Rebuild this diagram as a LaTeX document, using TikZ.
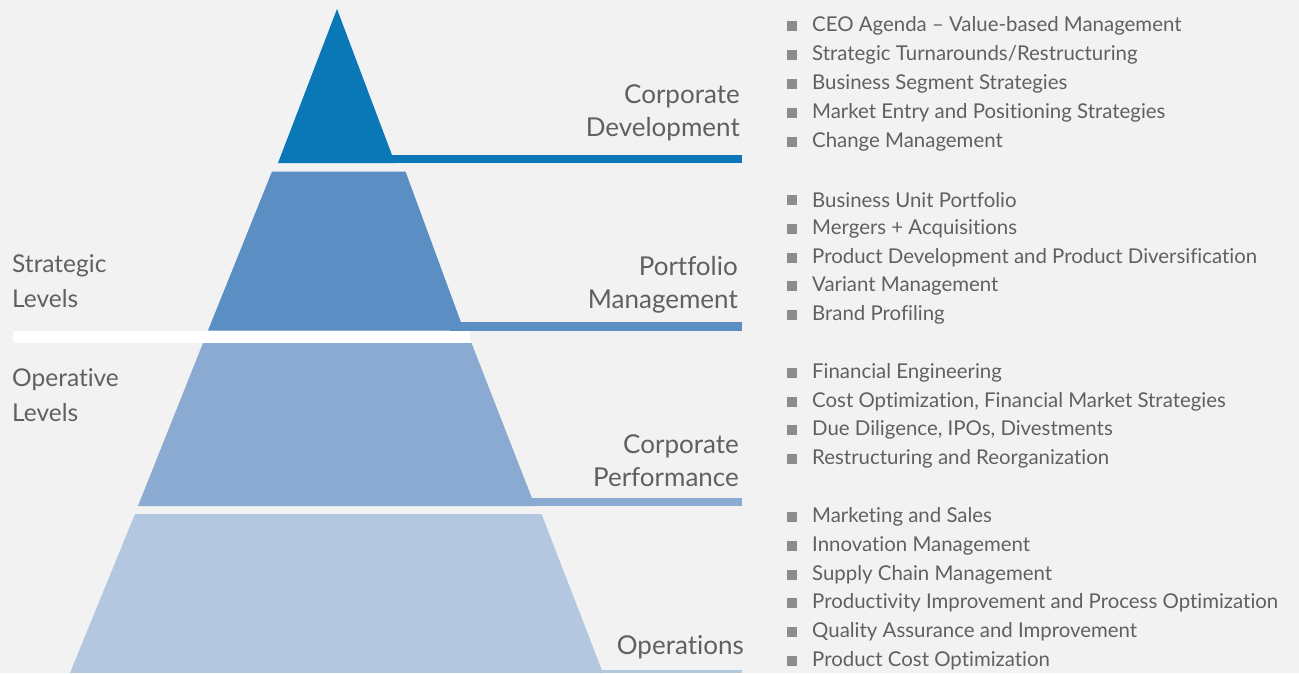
\documentclass[tikz,border=0pt]{standalone}
\usepackage{fontspec}
\setmainfont{Lato}[Ligatures=NoCommon]
\usetikzlibrary{positioning}
\definecolor{bgray}{HTML}{F2F2F2}
\definecolor{lvlone}{HTML}{0A77B6}
\definecolor{lvltwo}{HTML}{5B8FC3}
\definecolor{lvlthree}{HTML}{8AAAD1}
\definecolor{lvlfour}{HTML}{B4C7E1}
\definecolor{txtgray}{HTML}{606060}
\definecolor{bulletgray}{HTML}{8C8C8C}

\begin{document}
\begin{tikzpicture}[x=1pt,y=-1pt,
    level/.style={anchor=east, align=right, text=txtgray, inner sep=0pt,
      font=\fontsize{26}{33}\selectfont},
    side/.style={anchor=west, align=left, text=txtgray, inner sep=0pt,
      font=\fontsize{24.5}{35}\selectfont},
    item/.style={anchor=west, text=txtgray, inner sep=0pt,
      font=\fontsize{20.4}{25}\selectfont,
      label={[fill=bulletgray, inner sep=0pt, minimum size=10pt, label distance=15pt]left:{}}}]
    % Background
    \fill[bgray] (0,0) rectangle (1299,673);

    % Draw the pyramid levels and their lines
    \fill[lvlone] (380,155) rectangle (742,163);
    \fill[lvlone] (337,9) -- (395,163) -- (278,163) -- cycle;
    \fill[lvltwo] (450,322) rectangle (742,330.5);
    \fill[lvltwo] (272,171.5) -- (405.5,171.5) -- (464,330.5) -- (208,330.5) -- cycle;
    \fill[lvlthree] (520,498) rectangle (742,506);
    \fill[lvlthree] (203,343) -- (471.5,343) -- (535,506) -- (138,506) -- cycle;
    \fill[lvlfour] (590,669.5) rectangle (742,673);
    \fill[lvlfour] (135,514) -- (541.5,514) -- (603,673) -- (70,673) -- cycle;

    % White bar between strategic and operative levels
    \fill[white] (13,330.5) rectangle (470,343);

    % Level names
    \node[level] (corpdev) at (740,112.5) {Corporate\\Development};
    \node[level] (portmgmt) at (738,285) {Portfolio\\Management};
    \node[level] (corpperf) at (739,461) {Corporate\\Performance};
    \node[level] (ops) at (744,647) {Operations};

    % Left side labels
    \node[side] (strategic) at (12,281) {Strategic\\Levels};
    \node[side] (operative) at (12,395.5) {Operative\\Levels};

    % Bullet lists
    \foreach \y/\txt [count=\i] in {24/{CEO Agenda – Value-based Management},
        53/{Strategic Turnarounds/Restructuring},
        82/{Business Segment Strategies},
        111/{Market Entry and Positioning Strategies},
        140/{Change Management},
        198/{Business Unit Portfolio},
        227/{Mergers + Acquisitions},
        256/{Product Development and Product Diversification},
        284/{Variant Management},
        313/{Brand Profiling},
        371/{Financial Engineering},
        400/{Cost Optimization, Financial Market Strategies},
        428/{Due Diligence, IPOs, Divestments},
        457/{Restructuring and Reorganization},
        515/{Marketing and Sales},
        544/{Innovation Management},
        573/{Supply Chain Management},
        601/{Productivity Improvement and Process Optimization},
        630/{Quality Assurance and Improvement},
        659/{Product Cost Optimization}} {
        \node[item] (item\i) at (812,\y+2) {\txt};
    }
\end{tikzpicture}
\end{document}
